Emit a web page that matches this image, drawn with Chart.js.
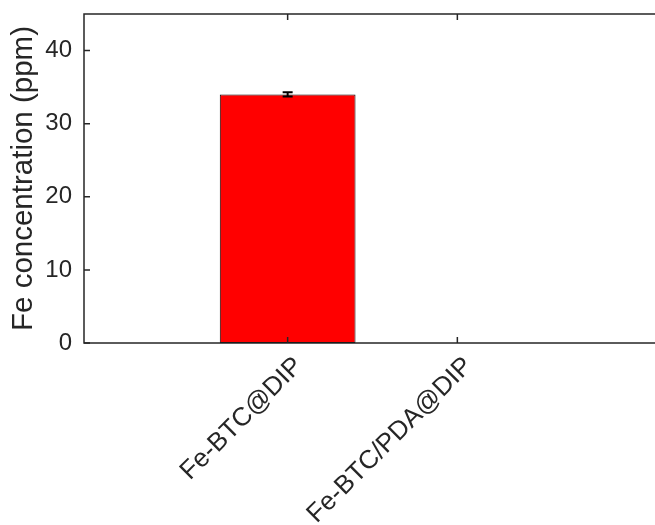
<!DOCTYPE html>
<html>
<head>
<meta charset="utf-8">
<script src="https://cdn.jsdelivr.net/npm/chart.js@4.4.1/dist/chart.umd.min.js"></script>
<style>
  html, body { margin: 0; padding: 0; background: #fff; overflow: hidden; }
  #wrap { width: 680px; height: 525px; }
</style>
</head>
<body>
<div id="wrap"><canvas id="fech" width="680" height="525"></canvas></div>
<script>
const categories = ['Fe-BTC@DIP', 'Fe-BTC/PDA@DIP'];
const feValues = [34.0, 0];
const feErrors = [0.3, 0];
const yTicks = [0, 10, 20, 30, 40];

const axcol = '#262626';
const fnt = 'Liberation Sans, Arial, Helvetica, sans-serif';

// matlab style box + inward ticks
const boxPlug = {
  id: 'boxPlug',
  afterDatasetsDraw(chart) {
    const c = chart.ctx, a = chart.chartArea;
    const xs = chart.scales.x, ys = chart.scales.y;
    c.save();
    c.strokeStyle = axcol;
    c.lineWidth = 1.5;
    c.strokeRect(a.left, a.top, a.right - a.left, a.bottom - a.top);
    c.beginPath();
    xs.ticks.forEach(t => {
      let px = xs.getPixelForValue(t.value);
      c.moveTo(px, a.bottom); c.lineTo(px, a.bottom - 6);
      c.moveTo(px, a.top); c.lineTo(px, a.top + 6);
    });
    ys.ticks.forEach(t => {
      let py = ys.getPixelForValue(t.value);
      c.moveTo(a.left, py); c.lineTo(a.left + 6, py);
      c.moveTo(a.right, py); c.lineTo(a.right - 6, py);
    });
    c.stroke();
    c.restore();
  }
};

const errPlug = {
  id: 'errPlug',
  afterDatasetsDraw(chart) {
    const c = chart.ctx;
    const xs = chart.scales.x, ys = chart.scales.y;
    c.save();
    c.strokeStyle = '#000';
    c.lineWidth = 2;
    feValues.forEach((v, i) => {
      if (!feErrors[i]) return;
      let px = xs.getPixelForValue(i + 1);
      let t = ys.getPixelForValue(v + feErrors[i]);
      let b = ys.getPixelForValue(v - feErrors[i]);
      c.beginPath();
      c.moveTo(px, t); c.lineTo(px, b);
      c.moveTo(px - 5, t); c.lineTo(px + 5, t);
      c.moveTo(px - 5, b); c.lineTo(px + 5, b);
      c.stroke();
    });
    c.restore();
  }
};

const ctx = document.getElementById('fech').getContext('2d');
new Chart(ctx, {
  type: 'bar',
  data: {
    datasets: [{
      data: feValues.map((v, i) => ({ x: i + 1, y: v })),
      backgroundColor: '#ff0000',
      borderColor: '#000000',
      borderWidth: 1,
      borderSkipped: false,
      barPercentage: 0.8,
      categoryPercentage: 1
    }]
  },
  options: {
    responsive: false,
    animation: false,
    layout: { padding: { top: 14, right: 19, left: 0, bottom: 0 } },
    plugins: {
      legend: { display: false },
      tooltip: { enabled: false }
    },
    scales: {
      x: {
        type: 'linear',
        min: -0.2,
        max: 3.2,
        offset: false,
        grid: { display: false, drawTicks: false },
        border: { display: false },
        afterBuildTicks: s => { s.ticks = categories.map((c, i) => ({ value: i + 1 })); },
        afterFit: s => { s.height = 182; s.paddingLeft = 0; s.paddingRight = 0; },
        ticks: {
          minRotation: 45,
          maxRotation: 45,
          padding: 8,
          labelOffset: 11,
          color: axcol,
          font: { family: fnt, size: 26 },
          callback: v => categories[v - 1]
        }
      },
      y: {
        min: 0,
        max: 45,
        grid: { display: false, drawTicks: false },
        border: { display: false },
        afterBuildTicks: s => { s.ticks = yTicks.map(v => ({ value: v })); },
        afterFit: s => { s.width = 84; s.paddingTop = 0; s.paddingBottom = 0; },
        ticks: {
          padding: 12,
          color: axcol,
          font: { family: fnt, size: 24 }
        },
        title: {
          display: true,
          text: 'Fe concentration (ppm)',
          color: axcol,
          font: { family: fnt, size: 29.5 },
          padding: { top: 6, bottom: 0 }
        }
      }
    }
  },
  plugins: [boxPlug, errPlug]
});
</script>
</body>
</html>
